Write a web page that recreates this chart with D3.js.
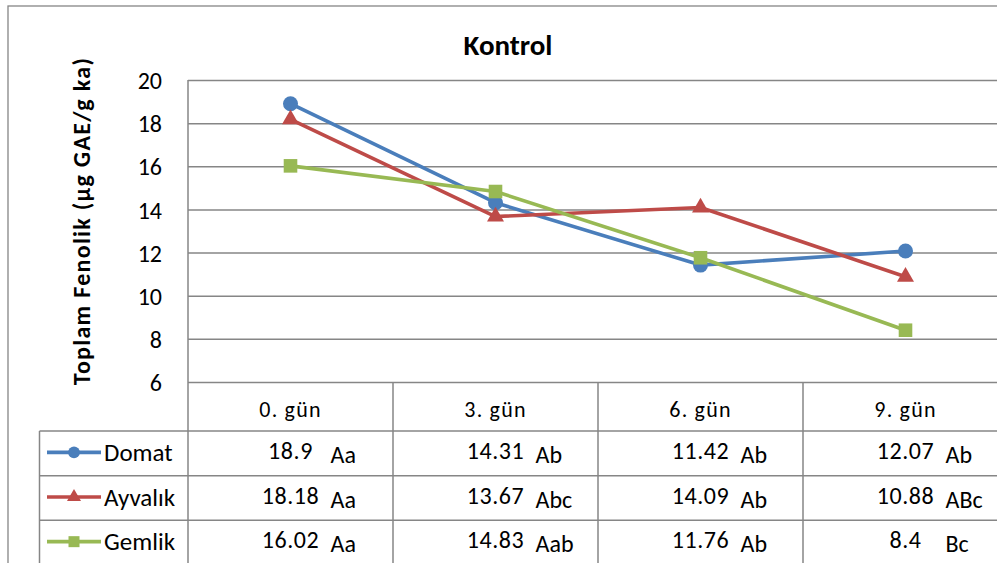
<!DOCTYPE html>
<html>
<head>
<meta charset="utf-8">
<script src="https://cdn.jsdelivr.net/npm/d3@7"></script>
<style>
  body { margin: 0; background: #fff; }
  svg { display: block; }
  text { font-family: Calibri, Carlito, Lato, sans-serif; fill: #000; }
</style>
</head>
<body>
<svg id="chart" width="997" height="563"></svg>
<script>
// ---- data ----
const categories = ["0. gün", "3. gün", "6. gün", "9. gün"];
const seriesNames = ["Domat", "Ayvalık", "Gemlik"];
const domatValues = [18.9, 14.31, 11.42, 12.07];
const ayvalikValues = [18.18, 13.67, 14.09, 10.88];
const gemlikValues = [16.02, 14.83, 11.76, 8.4];
const domatGroups = ["Aa", "Ab", "Ab", "Ab"];
const ayvalikGroups = ["Aa", "Abc", "Ab", "ABc"];
const gemlikGroups = ["Aa", "Aab", "Ab", "Bc"];
const yTicks = [6, 8, 10, 12, 14, 16, 18, 20];
const chartTitle = "Kontrol";
const yAxisTitle = "Toplam Fenolik (µg GAE/g ka)";

// ---- styling / layout ----
const gridColor = "#868686";
const series = [
  { name: seriesNames[0], values: domatValues, groups: domatGroups, color: "#4A7EBB", symbol: d3.symbolCircle, size: 177, legendSize: 110 },
  { name: seriesNames[1], values: ayvalikValues, groups: ayvalikGroups, color: "#BE4B48", symbol: d3.symbolTriangle, size: 125, legendSize: 85 },
  { name: seriesNames[2], values: gemlikValues, groups: gemlikGroups, color: "#98B954", symbol: d3.symbolSquare, size: 185, legendSize: 121 }
];

const frame = { left: 8, top: 6, right: 1008, bottom: 572 };
const plot = { left: 188, right: 1008, top: 80, bottom: 382 };
const table = { left: 39.5, headerBottom: 431, bottom: 565 };

const svg = d3.select("#chart");

const x = d3.scaleBand().domain(categories).range([plot.left, plot.right]);
const y = d3.scaleLinear().domain([6, 20]).range([plot.bottom, plot.top]);
const row = d3.scaleBand().domain(seriesNames).range([table.headerBottom, table.bottom]);

// outer chart frame
svg.append("rect")
  .attr("x", frame.left).attr("y", frame.top)
  .attr("width", frame.right - frame.left).attr("height", frame.bottom - frame.top)
  .attr("fill", "#fff").attr("stroke", gridColor).attr("stroke-width", 1.3);

// title
svg.append("text")
  .attr("x", (frame.left + frame.right) / 2).attr("y", 55)
  .attr("text-anchor", "middle")
  .attr("font-size", 29).attr("font-weight", "bold")
  .text(chartTitle);

// y axis with horizontal gridlines
const yAxis = d3.axisLeft(y)
  .tickValues(yTicks)
  .tickSize(-(plot.right - plot.left))
  .tickPadding(26)
  .tickFormat(d3.format("d"));

const yAxisG = svg.append("g")
  .attr("transform", `translate(${plot.left},0)`)
  .call(yAxis);
yAxisG.select(".domain").remove();
yAxisG.selectAll(".tick line").attr("stroke", gridColor).attr("stroke-width", 1.5);
yAxisG.selectAll(".tick text")
  .attr("font-family", "Calibri, Carlito, Lato, sans-serif")
  .attr("font-size", 24).attr("fill", "#111")
  .attr("dy", "0.36em");

// y axis title
svg.append("text")
  .attr("transform", `translate(90,${(plot.top + plot.bottom) / 2 - 10}) rotate(-90)`)
  .attr("text-anchor", "middle")
  .attr("font-size", 24).attr("font-weight", "bold")
  .attr("letter-spacing", 1.3)
  .text(yAxisTitle);

// ---- data table grid ----
const tableLines = svg.append("g").attr("stroke", gridColor).attr("stroke-width", 1.5);
// plot left edge running down through the table
tableLines.append("line")
  .attr("x1", plot.left).attr("x2", plot.left)
  .attr("y1", plot.top).attr("y2", table.bottom);
// column separators
categories.forEach(c => {
  const cx = x(c) + x.bandwidth();
  tableLines.append("line")
    .attr("x1", cx).attr("x2", cx)
    .attr("y1", plot.bottom).attr("y2", table.bottom);
});
// legend column left edge
tableLines.append("line")
  .attr("x1", table.left).attr("x2", table.left)
  .attr("y1", table.headerBottom).attr("y2", table.bottom);
// row separators
seriesNames.forEach(n => {
  tableLines.append("line")
    .attr("x1", table.left).attr("x2", plot.right)
    .attr("y1", row(n)).attr("y2", row(n));
});
tableLines.append("line")
  .attr("x1", table.left).attr("x2", plot.right)
  .attr("y1", table.bottom).attr("y2", table.bottom);

// category header labels
svg.append("g").selectAll("text")
  .data(categories).join("text")
  .attr("x", d => x(d) + x.bandwidth() / 2)
  .attr("y", plot.bottom + 35)
  .attr("text-anchor", "middle")
  .attr("font-size", 22).attr("letter-spacing", 1.2)
  .attr("fill", "#111")
  .text(d => d);

// ---- series lines and markers ----
const line = d3.line()
  .x((d, i) => x(categories[i]) + x.bandwidth() / 2)
  .y(d => y(d));

series.forEach(s => {
  const g = svg.append("g");
  g.append("path")
    .datum(s.values)
    .attr("d", line)
    .attr("fill", "none")
    .attr("stroke", s.color)
    .attr("stroke-width", 3.6)
    .attr("stroke-linejoin", "round");
  g.selectAll("path.marker")
    .data(s.values).join("path")
    .attr("class", "marker")
    .attr("transform", (d, i) => `translate(${x(categories[i]) + x.bandwidth() / 2},${y(d)})`)
    .attr("d", d3.symbol().type(s.symbol).size(s.size))
    .attr("fill", s.color);
});

// ---- table rows: legend key + values ----
series.forEach(s => {
  const top = row(s.name);
  const g = svg.append("g");
  const keyY = top + row.bandwidth() / 2 - 1;
  g.append("line")
    .attr("x1", 47).attr("x2", 101)
    .attr("y1", keyY).attr("y2", keyY)
    .attr("stroke", s.color).attr("stroke-width", 3.6);
  g.append("path")
    .attr("transform", `translate(74,${keyY})`)
    .attr("d", d3.symbol().type(s.symbol).size(s.legendSize))
    .attr("fill", s.color);
  g.append("text")
    .attr("x", 104).attr("y", top + 30)
    .attr("font-size", 25)
    .text(s.name);

  s.values.forEach((v, i) => {
    const cx = x(categories[i]) + x.bandwidth() / 2;
    g.append("text")
      .attr("x", cx).attr("y", top + 28)
      .attr("text-anchor", "middle")
      .attr("font-size", 24).attr("letter-spacing", 0.6)
      .text(String(v));
    g.append("text")
      .attr("x", cx + 40).attr("y", top + 32)
      .attr("font-size", 24)
      .text(s.groups[i]);
  });
});
</script>
</body>
</html>
